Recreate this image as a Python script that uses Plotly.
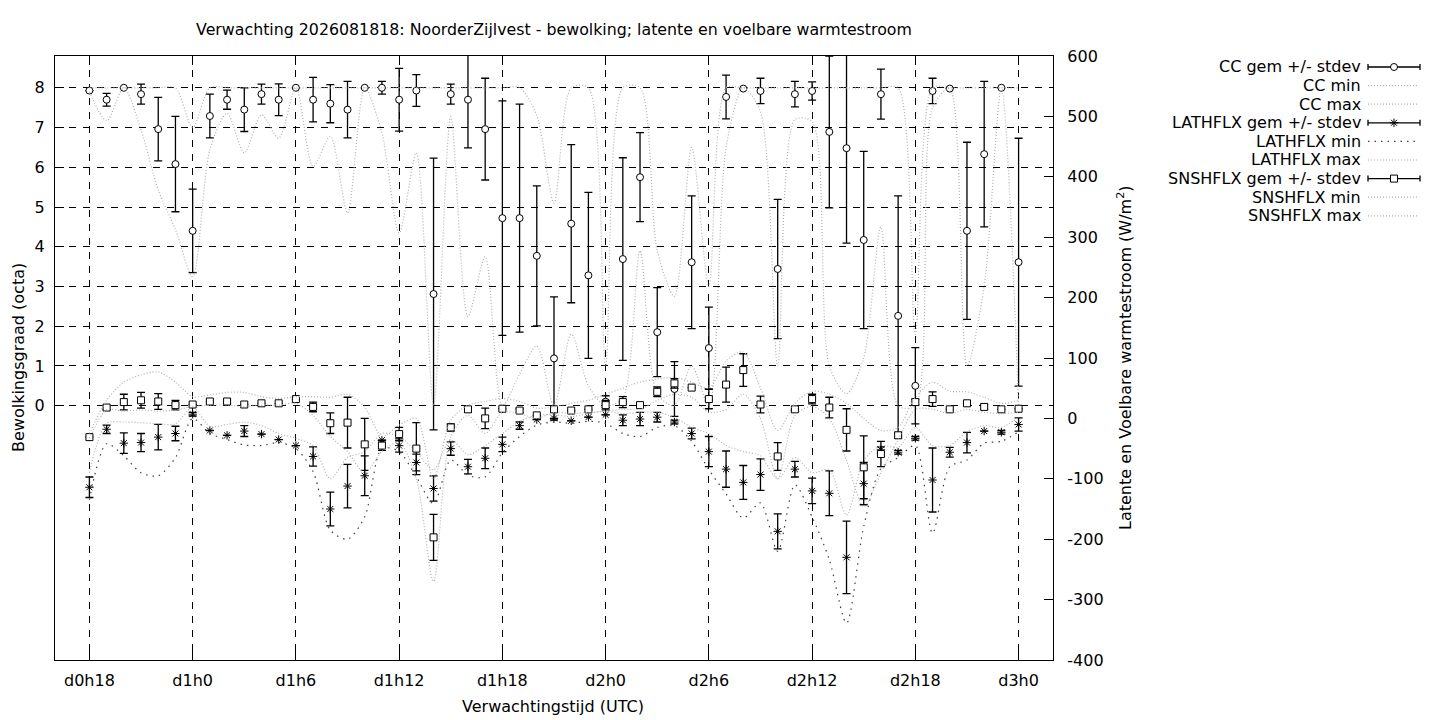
import plotly.graph_objects as go

# the page puts the figure 8px in from the top-left corner
OFF = 8
W, H = 1440 - OFF, 720 - OFF

# forecast hours since d0h0
hours = list(range(18, 73))
tick_hours = [18, 24, 30, 36, 42, 48, 54, 60, 66, 72]
tick_labels = ['d0h18', 'd1h0', 'd1h6', 'd1h12', 'd1h18', 'd2h0', 'd2h6',
               'd2h12', 'd2h18', 'd3h0']
flux_ticks = [-400, -300, -200, -100, 0, 100, 200, 300, 400, 500, 600]
flux_labels = ['-400', '-300', '-200', '-100', '0', '100', '200', '300', '400',
               '500', '600']

# bewolking (octa)
cc_mean = [7.93, 7.70, 8.00, 7.84, 6.96, 6.08, 4.40, 7.29, 7.70, 7.45, 7.84, 7.70,
           8.00, 7.70, 7.60, 7.45, 8.00, 8.00, 7.70, 7.93, 2.81, 7.84, 7.70, 6.96,
           4.72, 4.72, 3.77, 1.19, 4.58, 3.28, 0.10, 3.69, 5.75, 1.85, 0.42, 3.61,
           1.45, 7.77, 7.98, 7.92, 3.44, 7.84, 7.92, 6.89, 6.48, 4.17, 7.84, 2.26,
           0.50, 7.92, 7.98, 4.40, 6.33, 8.00, 3.61]
cc_sd = [0.00, 0.16, 0.00, 0.25, 0.80, 1.20, 1.05, 0.55, 0.24, 0.55, 0.25, 0.40,
         0.00, 0.56, 0.48, 0.71, 0.00, 0.16, 0.79, 0.40, 3.42, 0.25, 1.21, 1.28,
         2.95, 2.87, 1.76, 1.55, 1.99, 2.09, 0.15, 2.55, 1.12, 1.12, 0.69, 1.67,
         1.03, 0.55, 0.00, 0.32, 1.75, 0.32, 0.23, 1.91, 2.39, 2.23, 0.63, 3.02,
         0.96, 0.32, 0.00, 2.23, 1.83, 0.00, 3.12]
cc_min = [7.90, 7.17, 8.00, 6.94, 5.43, 4.43, 3.25, 6.44, 7.36, 6.36, 7.32, 6.73,
          8.00, 6.02, 6.78, 4.85, 8.00, 6.86, 4.34, 6.36, 0.00, 7.28, 2.24, 3.75,
          0.00, 0.80, 1.50, 0.00, 1.80, 0.50, 0.00, 0.20, 3.90, 0.30, 0.00, 1.00,
          0.00, 6.50, 8.00, 7.40, 1.00, 7.20, 7.15, 1.00, 0.30, 1.20, 4.50, 0.00,
          0.00, 7.50, 7.98, 1.00, 3.00, 8.00, 0.00]
cc_max = [8.00, 8.00, 8.00, 8.00, 8.00, 8.00, 7.00, 8.00, 8.00, 8.00, 8.00, 8.00,
          8.00, 8.00, 8.00, 8.00, 8.00, 8.00, 8.00, 8.00, 8.00, 8.00, 8.00, 8.00,
          8.00, 8.00, 7.30, 5.10, 8.00, 8.00, 1.00, 8.00, 8.00, 3.90, 2.75, 6.50,
          3.00, 8.00, 8.00, 8.00, 8.00, 8.00, 8.00, 8.00, 8.00, 8.00, 8.00, 8.00,
          1.80, 8.00, 8.00, 8.00, 8.00, 8.00, 8.00]

# latente warmtestroom (W/m2)
lat_mean = [-114, -18, -41, -40, -31, -25, 7, -20, -28, -21, -26, -35, -45, -63,
            -150, -112, -95, -36, -45, -73, -116, -50, -80, -66, -43, -12, -2, 0,
            -4, 2, 6, -3, -1, 2, -6, -25, -55, -84, -106, -93, -187, -84, -120,
            -124, -230, -108, -52, -56, -33, -102, -56, -40, -21, -23, -10]
lat_sd = [17, 7, 17, 15, 21, 12, 3, 0, 0, 9, 0, 0, 0, 16, 28, 36, 33, 0, 11, 14,
          21, 11, 12, 17, 12, 6, 0, 0, 0, 0, 0, 9, 11, 8, 3, 9, 25, 30, 28, 26, 29,
          13, 21, 37, 60, 35, 5, 3, 3, 53, 8, 17, 0, 3, 11]
lat_min = [-135, -42, -62, -90, -95, -65, 0, -25, -35, -44, -45, -40, -50, -88,
           -185, -200, -163, -50, -55, -97, -141, -69, -94, -97, -57, -30, -11, -6,
           -8, -5, -8, -25, -30, -15, -12, -38, -85, -125, -165, -140, -220, -110,
           -163, -234, -339, -179, -83, -65, -45, -190, -80, -69, -41, -38, -22]
lat_max = [-90, -8, -6, -7, -9, -9, 18, -13, -10, -6, -12, -25, -33, -45, -100,
           -65, -55, -25, -30, -55, -85, -35, -60, -45, -25, -5, 5, 6, 3, 8, 12, 8,
           10, 10, 2, -15, -25, -45, -55, -62, -100, -65, -90, -85, -160, -70, -45,
           -48, -15, -45, -45, -22, -12, -15, 2]

# voelbare warmtestroom (W/m2)
sns_mean = [-31, 18, 27, 30, 28, 22, 23, 28, 28, 23, 25, 25, 32, 19, -8, -7, -43,
            -45, -26, -50, -197, -15, 15, 0, 16, 13, 5, 15, 13, 15, 22, 27, 22, 44,
            58, 51, 32, 56, 80, 23, -63, 15, 32, 18, -19, -81, -59, -28, 27, 32, 15,
            25, 19, 15, 16]
sns_sd = [0, 3, 13, 13, 13, 8, 0, 0, 3, 0, 0, 0, 0, 8, 17, 42, 43, 8, 11, 43, 38,
          6, 4, 17, 0, 3, 0, 0, 0, 0, 8, 9, 0, 8, 8, 0, 16, 29, 27, 14, 23, 0, 8,
          17, 35, 52, 21, 5, 5, 12, 0, 0, 4, 0, 0]
sns_min = [-33, 14, 12, 14, 12, 14, 20, 22, 22, 20, 22, 22, 25, 5, -30, -55, -90,
           -55, -40, -100, -270, -30, 5, -25, 10, 8, 0, 10, 8, 10, 12, 15, 15, 30,
           40, 35, 10, 15, 40, 0, -100, 5, 20, 0, -70, -146, -90, -35, 15, 15, 8,
           15, 10, 8, 10]
sns_max = [-25, 30, 60, 72, 77, 60, 36, 39, 43, 43, 36, 33, 36, 36, 35, 40, 19,
           -30, -11, 0, -100, -3, 22, 28, 33, 28, 17, 19, 25, 30, 40, 50, 60, 65,
           68, 60, 50, 95, 110, 50, -20, 25, 45, 40, 25, 0, -20, -15, 35, 60, 45,
           44, 35, 25, 30]

FONT = 'DejaVu Sans'
LIGHT = '#b0b0b0'
DARK = '#404040'

# plot area in screen pixels
PL, PR, PT, PB = 55, 1053, 56, 660


def fx(p):
    return (p - OFF) / W


def fy(p):
    return 1 - (p - OFF) / H


def gem_trace(y, sd, symbol, name, yaxis):
    # open symbols take their stroke from marker.color
    fill = 'black' if symbol.endswith('-open') else 'white'
    return go.Scatter(
        x=hours, y=y, mode='markers', name=name, yaxis=yaxis,
        marker=dict(symbol=symbol, size=7, color=fill,
                    line=dict(color='black', width=1)),
        error_y=dict(type='data', array=sd, color='black', thickness=1.3, width=4),
    )


def dot_trace(y, name, yaxis, color=LIGHT, dash='1px,2px'):
    return go.Scatter(
        x=hours, y=y, mode='lines', name=name, yaxis=yaxis,
        line=dict(color=color, width=1.2, dash=dash, shape='spline', smoothing=0.8),
    )


fig = go.Figure()
fig.add_trace(gem_trace(cc_mean, cc_sd, 'circle', 'CC gem +/- stdev', 'y'))
fig.add_trace(dot_trace(cc_min, 'CC min', 'y'))
fig.add_trace(dot_trace(cc_max, 'CC max', 'y'))
fig.add_trace(gem_trace(lat_mean, lat_sd, 'asterisk-open', 'LATHFLX gem +/- stdev', 'y2'))
fig.add_trace(dot_trace(lat_min, 'LATHFLX min', 'y2', color=DARK, dash='1.5px,5px'))
fig.add_trace(dot_trace(lat_max, 'LATHFLX max', 'y2'))
fig.add_trace(gem_trace(sns_mean, sns_sd, 'square', 'SNSHFLX gem +/- stdev', 'y2'))
fig.add_trace(dot_trace(sns_min, 'SNSHFLX min', 'y2'))
fig.add_trace(dot_trace(sns_max, 'SNSHFLX max', 'y2'))

# legend drawn on its own hidden axes (screen pixel units) at the top right
legend_rows = [('CC gem +/- stdev', 'circle'), ('CC min', None), ('CC max', None),
               ('LATHFLX gem +/- stdev', 'asterisk-open'), ('LATHFLX min', 'dark'),
               ('LATHFLX max', None), ('SNSHFLX gem +/- stdev', 'square'),
               ('SNSHFLX min', None), ('SNSHFLX max', None)]
annotations = []
for i, (label, kind) in enumerate(legend_rows):
    ry = 67 + i * 18.6
    if kind in ('circle', 'asterisk-open', 'square'):
        fill = 'black' if kind.endswith('-open') else 'white'
        fig.add_trace(go.Scatter(
            x=[1394], y=[ry], mode='markers', xaxis='x3', yaxis='y3',
            marker=dict(symbol=kind, size=7, color=fill,
                        line=dict(color='black', width=1)),
            error_x=dict(type='data', array=[26], color='black', thickness=1.3, width=3),
            hoverinfo='skip'))
    else:
        col, dsh = (DARK, '1.5px,5px') if kind == 'dark' else (LIGHT, '1px,2px')
        fig.add_trace(go.Scatter(
            x=[1368, 1418], y=[ry, ry], mode='lines', xaxis='x3', yaxis='y3',
            line=dict(color=col, width=1.2, dash=dsh), hoverinfo='skip'))
    annotations.append(dict(text=label, x=fx(1363), y=fy(ry), xref='paper',
                            yref='paper', xanchor='right', yanchor='middle',
                            showarrow=False, font=dict(size=16)))

annotations += [
    dict(text='Verwachtingstijd (UTC)', x=fx(553), y=fy(706), xref='paper',
         yref='paper', xanchor='center', yanchor='middle', showarrow=False,
         font=dict(size=16)),
    dict(text='Bewolkingsgraad (octa)', x=fx(18), y=fy(358), xref='paper',
         yref='paper', xanchor='center', yanchor='middle', showarrow=False,
         textangle=-90, font=dict(size=16)),
    dict(text='Latente en Voelbare warmtestroom (W/m<sup>2</sup>)', x=fx(1124),
         y=fy(358), xref='paper', yref='paper', xanchor='center', yanchor='middle',
         showarrow=False, textangle=-90, font=dict(size=16)),
]

axis_common = dict(showline=True, linecolor='black', linewidth=1.2, ticks='inside',
                   ticklen=9, tickcolor='black', zeroline=False, automargin=False)

fig.update_layout(
    width=W, height=H,
    margin=dict(l=0, r=0, t=0, b=0, pad=0, autoexpand=False),
    paper_bgcolor='white', plot_bgcolor='white',
    font=dict(family=FONT, size=16, color='black'),
    showlegend=False,
    title=dict(text='Verwachting 2026081818: NoorderZijlvest - bewolking; latente en voelbare warmtestroom',
               x=fx(554), y=fy(29), xanchor='center', yanchor='middle',
               font=dict(size=15.8), automargin=False),
    xaxis=dict(domain=[fx(PL), fx(PR)], range=[16, 74], tickvals=tick_hours,
               ticktext=tick_labels, showgrid=True, gridcolor='black',
               griddash='7px,7px', gridwidth=1, mirror='ticks',
               ticklabelstandoff=6, **axis_common),
    yaxis=dict(domain=[fy(PB), fy(PT)], range=[-6.4, 8.8],
               tickvals=list(range(0, 9)), showgrid=True, gridcolor='black',
               griddash='7px,7px', gridwidth=1, mirror=True,
               ticklabelstandoff=6, **axis_common),
    yaxis2=dict(overlaying='y', side='right', anchor='x', range=[-400, 600],
                tickvals=flux_ticks, ticktext=flux_labels, showgrid=False,
                ticklabelstandoff=10, **axis_common),
    xaxis3=dict(domain=[fx(1360), fx(1430)], range=[1360, 1430], visible=False,
                anchor='y3', fixedrange=True, automargin=False),
    yaxis3=dict(domain=[fy(230), fy(55)], range=[230, 55], visible=False,
                anchor='x3', fixedrange=True, automargin=False),
    annotations=annotations,
)

fig.write_html('out.html')
